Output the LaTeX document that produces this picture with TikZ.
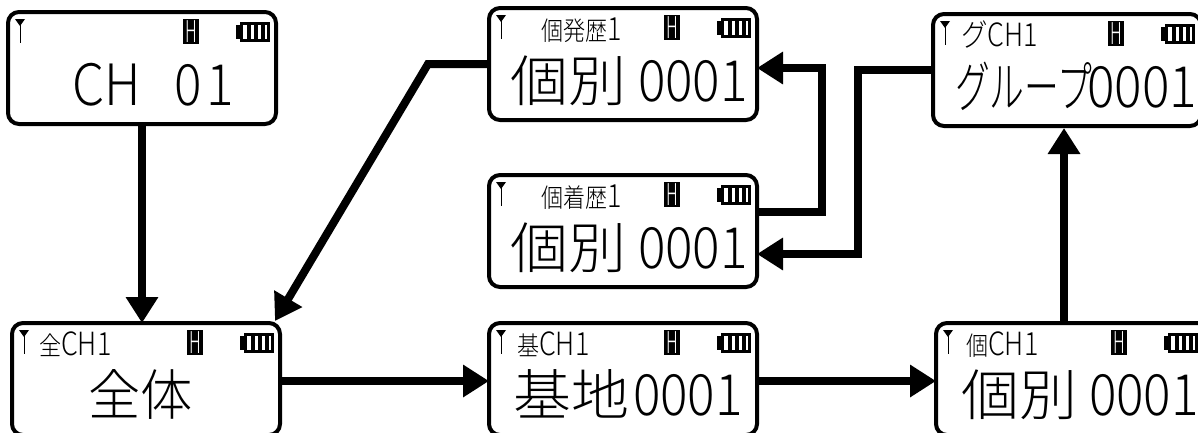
\documentclass[tikz,border=0pt]{standalone}
\usepackage{fontspec}
\usepackage{graphicx}
\usetikzlibrary{arrows.meta,calc}
\newfontfamily\jpf{Noto Sans CJK JP Light}
\tikzset{
  x=1pt,y=-1pt,
  lcdbox/.style={draw=black,line width=4pt,rounded corners=11pt,minimum width=268pt,minimum height=112pt,outer sep=0pt,inner sep=0pt,anchor=north west,fill=white},
  conn/.style={line width=8pt,-{Triangle[width=31pt,length=26pt,sharp]},line join=miter},
  txt/.style={anchor=base west,inner sep=0pt,outer sep=0pt,text=black},
  hbox/.style={fill=black,text=white,minimum width=16pt,minimum height=25pt,inner sep=0pt,anchor=north west},
}
\newcommand{\sm}[1]{\scalebox{.85}[1]{\jpf\fontsize{26}{26}\selectfont #1}}
\newcommand{\smd}[1]{\scalebox{.84}[1]{\jpf\fontsize{32}{32}\selectfont #1}}
\newcommand{\bgk}[1]{\scalebox{1}[.95]{\jpf\fontsize{58}{58}\selectfont #1}}
\newcommand{\bgd}[1]{\scalebox{.9}[1]{\jpf\fontsize{57}{57}\selectfont #1}}
\newcommand{\lcd}[4][]{%
  \node[lcdbox,#1] (#2) at (#3,#4) {};
  \begin{scope}[shift={(#3,#4)}]
    \draw[line width=.8pt] (12,8) -- (12,31);
    \fill (7,7) -- (17,7) -- (12,14) -- cycle;
    \node[hbox] (#2-h) at (175,7) {\scalebox{.55}[1]{\jpf\fontsize{30}{30}\selectfont H}};
    \fill (232,10) rectangle (262,30);
    \fill (228,13) rectangle (233,27);
    \fill[white] (235,13) rectangle (259,27);
    \fill (239,13) rectangle (243,27);
    \fill (246,13) rectangle (250,27);
    \fill (253,13) rectangle (257,27);
  \end{scope}}
\begin{document}
\begin{tikzpicture}
\useasboundingbox (0,0) rectangle (1198,432);
\clip (0,0) rectangle (1198,432);
\lcd{a}{8}{12}
\lcd{b}{12}{323}
\lcd{c}{489}{8}
\lcd{d}{489}{175}
\lcd{e}{489}{323}
\lcd{f}{933}{14}
\lcd[minimum width=290pt]{g}{936}{323}
% big lines
\node[txt] (a-big) at (72,105) {\bgd{CH\hspace{38pt}0\hspace{5pt}1}};
\node[txt] (b-big) at (88,415) {\scalebox{.9}[1]{\bgk{全体}}};
\node[txt] (c-big) at (510,101) {\bgk{個別}\hspace{12pt}\bgd{0001}};
\node[txt] (d-big) at (510,268) {\bgk{個別}\hspace{12pt}\bgd{0001}};
\node[txt] (e-big) at (513,415) {\bgk{基地}\hspace{4pt}\bgd{0001}};
\node[txt] (f-big) at (955,107) {\scalebox{.6}[1]{\bgk{グループ}}\hspace{-5pt}\bgd{0001}};
\node[txt] (g-big) at (961,415) {\bgk{個別}\hspace{12pt}\bgd{0001}};
% small lines
\node[txt] (c-sm) at (541,40) {\sm{個発歴}\smd{1}};
\node[txt] (d-sm) at (541,207) {\sm{個着歴}\smd{1}};
\node[txt] (b-sm) at (39,355) {\sm{全}\smd{CH1}};
\node[txt] (e-sm) at (517,355) {\sm{基}\smd{CH1}};
\node[txt] (f-sm) at (961,46) {\scalebox{1.2}{\sm{グ}}\smd{CH1}};
\node[txt] (g-sm) at (966,355) {\sm{個}\smd{CH1}};
% connectors
\draw[conn] (a.south) -- ([xshift=-4pt]b.north);
\draw[conn] ([yshift=-2pt]b.east) -- ([yshift=-2pt]e.west);
\draw[conn] ([yshift=-2pt]e.east) -- ([yshift=-2pt]g.west);
\draw[conn] ([xshift=-17pt]g.north) -- ([xshift=-3pt,yshift=-2pt]f.south);
\draw[conn] (f.west) -- (858,70) -- (858,254) -- ([yshift=-23pt]d.east);
\draw[conn] ([yshift=19pt]d.east) -- (822,212) -- (822,68) -- ([yshift=-4pt]c.east);
\draw[conn] (c.west) -- (428,64) -- (275,321);
\end{tikzpicture}
\end{document}
